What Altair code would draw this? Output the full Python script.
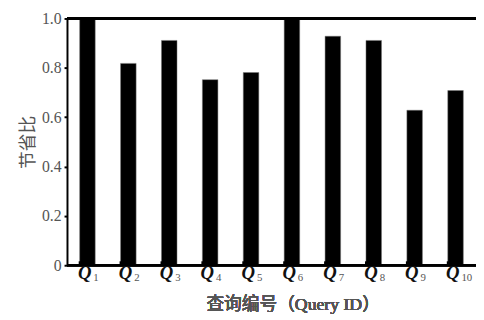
import altair as alt
import pandas as pd

queries = ["Q1", "Q2", "Q3", "Q4", "Q5", "Q6", "Q7", "Q8", "Q9", "Q10"]
subs = ["1", "2", "3", "4", "5", "6", "7", "8", "9", "10"]
ratio = [1.0, 0.818, 0.911, 0.752, 0.781, 1.0, 0.928, 0.911, 0.628, 0.708]
y_ticks = [0, 0.2, 0.4, 0.6, 0.8, 1.0]

df = pd.DataFrame({"q": queries, "sub": subs, "ratio": ratio})

W, H = 416, 251
SERIF = "'Liberation Serif', 'Times New Roman', serif"
CJK = "'Liberation Serif', 'Noto Sans CJK SC', serif"

xscale = alt.Scale(domain=queries, paddingInner=0.62, paddingOuter=0.31)
yscale = alt.Scale(domain=[0, 1], nice=False)

base = alt.Chart(df)

bars = base.mark_bar(color="black", stroke="#777", strokeWidth=0.5).encode(
    x=alt.X("q:N", scale=xscale, sort=queries, axis=None),
    y=alt.Y("ratio:Q", scale=yscale,
            axis=alt.Axis(values=y_ticks, title="节省比", grid=False,
                          labelExpr="datum.value == 0 ? '0' : format(datum.value, '.1f')",
                          labelFont=SERIF, labelFontSize=16, labelColor="#555",
                          labelFontWeight="normal",
                          labelPadding=3, tickSize=3, tickWidth=2, tickColor="black",
                          domainColor="black", domainWidth=2,
                          titleFont=CJK, titleFontSize=18,
                          titleFontWeight="normal", titleColor="#555", titlePadding=4)),
)

ticks = base.mark_rule(color="black", strokeWidth=2).encode(
    x=alt.X("q:N", scale=xscale, sort=queries, bandPosition=0),
    y=alt.value(H),
    y2=alt.value(H - 4),
)

bottom = base.mark_rule(color="black", strokeWidth=2).encode(
    x=alt.value(0), x2=alt.value(W), y=alt.value(H)
)
top = base.mark_rule(color="black", strokeWidth=2).encode(
    x=alt.value(0), x2=alt.value(W), y=alt.value(0)
)

qlab = base.mark_text(text="Q", font=SERIF, fontSize=19, fontStyle="italic",
                      fontWeight="bold", align="right", baseline="alphabetic",
                      dx=4, color="#111").encode(
    x=alt.X("q:N", scale=xscale, sort=queries),
    y=alt.value(H + 14),
)
sublab = base.mark_text(font=SERIF, fontSize=11, align="left",
                        baseline="alphabetic", dx=6, color="#555").encode(
    x=alt.X("q:N", scale=xscale, sort=queries),
    y=alt.value(H + 16),
    text="sub:N",
)

xtitle = base.mark_text(text="查询编号（Query ID）", font=CJK, fontSize=18,
                        fontWeight="normal", align="center", baseline="alphabetic",
                        color="#555").encode(
    x=alt.value(230), y=alt.value(H + 46)
)

chart = alt.layer(bars, ticks, bottom, top, qlab, sublab, xtitle).properties(
    width=W, height=H,
    autosize=alt.AutoSizeParams(type="none"),
    padding={"left": 60, "top": 8, "right": 0, "bottom": 50},
).configure_view(stroke=None)

chart.save("out.html", embed_options={"renderer": "svg", "actions": False})
